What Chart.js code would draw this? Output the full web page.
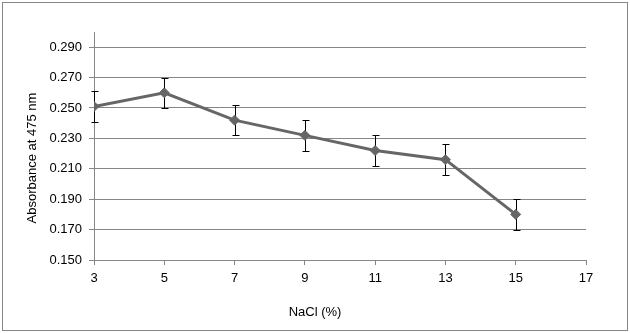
<!DOCTYPE html>
<html>
<head>
<meta charset="utf-8">
<script src="https://cdn.jsdelivr.net/npm/chart.js@4"></script>
<style>
  html, body { margin: 0; padding: 0; background: #ffffff; }
  #wrap { width: 630px; height: 333px; }
</style>
</head>
<body>
<div id="wrap"><canvas id="c" width="630" height="333"></canvas></div>
<script>
// ---- data ----
const nacl = [3, 5, 7, 9, 11, 13, 15];
const absorbance = [0.251, 0.260, 0.242, 0.232, 0.222, 0.216, 0.180];
const errors = [0.010, 0.010, 0.010, 0.010, 0.010, 0.010, 0.010];
const yTicks = [0.150, 0.170, 0.190, 0.210, 0.230, 0.250, 0.270, 0.290];
const xTitle = 'NaCl (%)';
const yTitle = 'Absorbance at 475 nm';

const FONT = "'Liberation Sans', Arial, sans-serif";
const GRID = '#868686';

const errorBars = {
  id: 'errorBars',
  beforeDatasetsDraw(chart) {
    const ctx = chart.ctx, xs = chart.scales.x, ys = chart.scales.y;
    ctx.save();
    ctx.strokeStyle = '#000000';
    ctx.lineWidth = 1;
    nacl.forEach((xv, i) => {
      const px = Math.round(xs.getPixelForValue(xv)) + 0.5;
      const top = Math.round(ys.getPixelForValue(absorbance[i] + errors[i])) + 0.5;
      const bot = Math.round(ys.getPixelForValue(absorbance[i] - errors[i])) + 0.5;
      ctx.beginPath();
      ctx.moveTo(px, top); ctx.lineTo(px, bot);
      ctx.moveTo(px - 3, top); ctx.lineTo(px + 4, top);
      ctx.moveTo(px - 3, bot); ctx.lineTo(px + 4, bot);
      ctx.stroke();
    });
    ctx.restore();
  }
};

const frameAndTitles = {
  id: 'frameAndTitles',
  afterDraw(chart) {
    const ctx = chart.ctx;
    ctx.save();
    ctx.strokeStyle = GRID;
    ctx.lineWidth = 1;
    ctx.strokeRect(2.5, 2.5, 625, 328);
    ctx.fillStyle = '#000000';
    ctx.font = '13px ' + FONT;
    ctx.textAlign = 'center';
    ctx.textBaseline = 'middle';
    ctx.fillText(xTitle, 315, 312);
    ctx.translate(32, 158);
    ctx.rotate(-Math.PI / 2);
    ctx.fillText(yTitle, 0, 0);
    ctx.restore();
  }
};

new Chart(document.getElementById('c'), {
  type: 'scatter',
  data: {
    datasets: [{
      data: nacl.map((x, i) => ({ x: x, y: absorbance[i] })),
      showLine: true,
      borderColor: '#666666',
      backgroundColor: '#666666',
      borderWidth: 3,
      pointStyle: 'rectRot',
      pointRadius: 5,
      pointBorderWidth: 1,
      pointBorderColor: '#666666',
      pointBackgroundColor: '#666666',
      tension: 0
    }]
  },
  options: {
    responsive: false,
    animation: false,
    devicePixelRatio: 1,
    layout: { padding: { top: 32, right: 44, left: 0, bottom: 0 } },
    plugins: { legend: { display: false }, tooltip: { enabled: false } },
    scales: {
      x: {
        type: 'linear',
        min: 3, max: 17,
        afterFit(s) { s.height = 73; },
        ticks: { stepSize: 2, color: '#000000', font: { family: FONT, size: 13 }, padding: 6, maxRotation: 0 },
        grid: { drawOnChartArea: false, color: GRID, tickLength: 5, lineWidth: 1 },
        border: { color: GRID, width: 1 }
      },
      y: {
        type: 'linear',
        min: 0.15, max: 0.30,
        afterFit(s) { s.width = 94; },
        afterBuildTicks(s) { s.ticks = yTicks.map(v => ({ value: v })); },
        ticks: {
          color: '#000000', font: { family: FONT, size: 13 }, padding: 7,
          callback: v => Number(v).toFixed(3)
        },
        grid: { color: GRID, tickLength: 5, lineWidth: 1 },
        border: { color: GRID, width: 1 }
      }
    }
  },
  plugins: [errorBars, frameAndTitles]
});
</script>
</body>
</html>
